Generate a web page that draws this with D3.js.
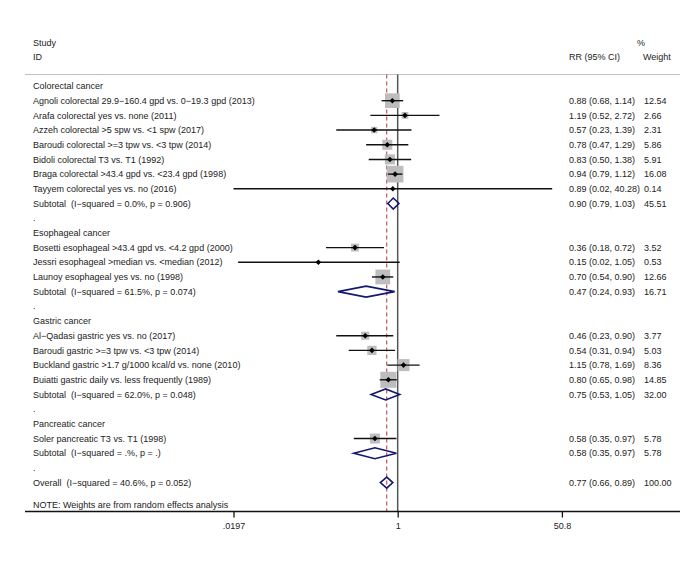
<!DOCTYPE html>
<html><head><meta charset="utf-8">
<script src="https://cdn.jsdelivr.net/npm/d3@7"></script>
<style>body{margin:0;background:#fff}svg{display:block}text{white-space:pre}</style>
</head><body>
<script>
// ---- data ----
const rowLabels = [
 "Colorectal cancer",
 "Agnoli colorectal 29.9−160.4 gpd vs. 0−19.3 gpd (2013)",
 "Arafa colorectal yes vs. none (2011)",
 "Azzeh colorectal >5 spw vs. <1 spw (2017)",
 "Baroudi colorectal >=3 tpw vs. <3 tpw (2014)",
 "Bidoli colorectal T3 vs. T1 (1992)",
 "Braga colorectal >43.4 gpd vs. <23.4 gpd (1998)",
 "Tayyem colorectal yes vs. no (2016)",
 "Subtotal  (I−squared = 0.0%, p = 0.906)",
 ".",
 "Esophageal cancer",
 "Bosetti esophageal >43.4 gpd vs. <4.2 gpd (2000)",
 "Jessri esophageal >median vs. <median (2012)",
 "Launoy esophageal yes vs. no (1998)",
 "Subtotal  (I−squared = 61.5%, p = 0.074)",
 ".",
 "Gastric cancer",
 "Al−Qadasi gastric yes vs. no (2017)",
 "Baroudi gastric >=3 tpw vs. <3 tpw (2014)",
 "Buckland gastric >1.7 g/1000 kcal/d vs. none (2010)",
 "Buiatti gastric daily vs. less frequently (1989)",
 "Subtotal  (I−squared = 62.0%, p = 0.048)",
 ".",
 "Pancreatic cancer",
 "Soler pancreatic T3 vs. T1 (1998)",
 "Subtotal  (I−squared = .%, p = .)",
 ".",
 "Overall  (I−squared = 40.6%, p = 0.052)"
];
// type: h = heading, s = study, d = pooled diamond, b = blank
const rowTypes = ["h","s","s","s","s","s","s","s","d","b","h","s","s","s","d","b","h","s","s","s","s","d","b","h","s","d","b","d"];
const rr     = [null,0.88,1.19,0.57,0.78,0.83,0.94,0.89,0.90,null,null,0.36,0.15,0.70,0.47,null,null,0.46,0.54,1.15,0.80,0.75,null,null,0.58,0.58,null,0.77];
const lower  = [null,0.68,0.52,0.23,0.47,0.50,0.79,0.0197,0.79,null,null,0.18,0.022,0.54,0.24,null,null,0.23,0.31,0.78,0.65,0.53,null,null,0.35,0.35,null,0.66];
const upper  = [null,1.14,2.72,1.39,1.29,1.38,1.12,40.28,1.03,null,null,0.72,1.05,0.90,0.93,null,null,0.90,0.94,1.69,0.98,1.05,null,null,0.97,0.97,null,0.89];
const ciText = [null,"0.88 (0.68, 1.14)","1.19 (0.52, 2.72)","0.57 (0.23, 1.39)","0.78 (0.47, 1.29)","0.83 (0.50, 1.38)","0.94 (0.79, 1.12)","0.89 (0.02, 40.28)","0.90 (0.79, 1.03)",null,null,"0.36 (0.18, 0.72)","0.15 (0.02, 1.05)","0.70 (0.54, 0.90)","0.47 (0.24, 0.93)",null,null,"0.46 (0.23, 0.90)","0.54 (0.31, 0.94)","1.15 (0.78, 1.69)","0.80 (0.65, 0.98)","0.75 (0.53, 1.05)",null,null,"0.58 (0.35, 0.97)","0.58 (0.35, 0.97)",null,"0.77 (0.66, 0.89)"];
const weights = [null,12.54,2.66,2.31,5.86,5.91,16.08,0.14,45.51,null,null,3.52,0.53,12.66,16.71,null,null,3.77,5.03,8.36,14.85,32.00,null,null,5.78,5.78,null,100.00];
const weightText = [null,"12.54","2.66","2.31","5.86","5.91","16.08","0.14","45.51",null,null,"3.52","0.53","12.66","16.71",null,null,"3.77","5.03","8.36","14.85","32.00",null,null,"5.78","5.78",null,"100.00"];
const tickValues = [0.0197, 1, 50.8];
const tickLabels = [".0197", "1", "50.8"];
const overallRR = 0.77;
const noteText = "NOTE: Weights are from random effects analysis";

// ---- layout ----
const W = 700, H = 566;
const svg = d3.select("body").append("svg").attr("width", W).attr("height", H);
const font = "'Liberation Sans', Arial, Helvetica, sans-serif";
const fs = 9, txtCol = "#222";

const x = d3.scaleLog().domain([0.0197, 50.8]).range([233.5, 561.9]);
const y = d3.scaleLinear().domain([0, 27]).range([86, 482.6]);
const topY = 74.5, axisY = 511.5;
const boxSide = w => 4.15 * Math.sqrt(w);

// header
const hdr = svg.append("g").attr("font-family", font).attr("font-size", fs).attr("fill", txtCol);
hdr.append("text").attr("x", 33).attr("y", 42.7).attr("dy", "0.35em").text("Study");
hdr.append("text").attr("x", 33).attr("y", 56.7).attr("dy", "0.35em").text("ID");
hdr.append("text").attr("x", 569).attr("y", 56.7).attr("dy", "0.35em").text("RR (95% CI)");
hdr.append("text").attr("x", 637).attr("y", 42.7).attr("dy", "0.35em").text("%");
hdr.append("text").attr("x", 643).attr("y", 56.7).attr("dy", "0.35em").text("Weight");

svg.append("line").attr("x1", 25).attr("x2", 680).attr("y1", topY).attr("y2", topY)
  .attr("stroke", "#c0c0c0").attr("stroke-width", 1.2);

const rows = rowLabels.map((l, i) => ({i, label: l, type: rowTypes[i], rr: rr[i], lo: lower[i], hi: upper[i], ci: ciText[i], w: weights[i], wt: weightText[i]}));

// null line and overall dashed line
svg.append("line").attr("x1", x(1)).attr("x2", x(1)).attr("y1", topY).attr("y2", axisY)
  .attr("stroke", "#555").attr("stroke-width", 1.5);
svg.append("line").attr("x1", x(overallRR)).attr("x2", x(overallRR)).attr("y1", topY).attr("y2", axisY)
  .attr("stroke", "#b0313d").attr("stroke-width", 1).attr("stroke-dasharray", "4,3");

// studies
const studies = rows.filter(d => d.type === "s");
svg.append("g").selectAll("rect").data(studies.filter(d => d.w > 0.3)).join("rect")
  .attr("x", d => x(d.rr) - boxSide(d.w) / 2).attr("y", d => y(d.i) - boxSide(d.w) / 2)
  .attr("width", d => boxSide(d.w)).attr("height", d => boxSide(d.w)).attr("fill", "#bdbdbd");
svg.append("g").selectAll("line").data(studies).join("line")
  .attr("x1", d => x(d.lo)).attr("x2", d => x(d.hi)).attr("y1", d => y(d.i)).attr("y2", d => y(d.i))
  .attr("stroke", "#111").attr("stroke-width", 1.4);
svg.append("g").selectAll("path").data(studies).join("path")
  .attr("d", d => { const cx = x(d.rr), cy = y(d.i), r = 2.8; return `M${cx-r},${cy}L${cx},${cy-r}L${cx+r},${cy}L${cx},${cy+r}Z`; })
  .attr("fill", "#000");

// pooled diamonds
svg.append("g").selectAll("path").data(rows.filter(d => d.type === "d")).join("path")
  .attr("d", d => { const cy = y(d.i), h = 5.5; return `M${x(d.lo)},${cy}L${x(d.rr)},${cy-h}L${x(d.hi)},${cy}L${x(d.rr)},${cy+h}Z`; })
  .attr("fill", "none").attr("stroke", "#14186e").attr("stroke-width", 1.6);

// labels
const lab = svg.append("g").attr("font-family", font).attr("font-size", fs).attr("fill", txtCol);
lab.selectAll("text.lbl").data(rows).join("text").attr("class", "lbl")
  .attr("x", 33).attr("y", d => y(d.i)).attr("dy", "0.35em").text(d => d.label);
lab.selectAll("text.ci").data(rows.filter(d => d.ci)).join("text").attr("class", "ci")
  .attr("x", 569).attr("y", d => y(d.i)).attr("dy", "0.35em").text(d => d.ci);
lab.selectAll("text.wt").data(rows.filter(d => d.wt)).join("text").attr("class", "wt")
  .attr("x", 644).attr("y", d => y(d.i)).attr("dy", "0.35em").text(d => d.wt);
lab.append("text").attr("x", 33).attr("y", 505).attr("dy", "0.35em").text(noteText);

// axis
svg.append("line").attr("x1", 25).attr("x2", 680).attr("y1", axisY).attr("y2", axisY)
  .attr("stroke", "#111").attr("stroke-width", 1.3);
const axis = d3.axisBottom(x).tickValues(tickValues).tickFormat((d, i) => tickLabels[i]).tickSize(6).tickSizeOuter(0);
const ag = svg.append("g").attr("transform", `translate(0,${axisY})`).call(axis);
ag.select(".domain").remove();
ag.selectAll(".tick line").attr("stroke", "#111").attr("stroke-width", 1.3);
ag.selectAll(".tick text").attr("font-family", font).attr("font-size", fs).attr("fill", txtCol).attr("dy", "0.9em");
</script>
</body></html>
